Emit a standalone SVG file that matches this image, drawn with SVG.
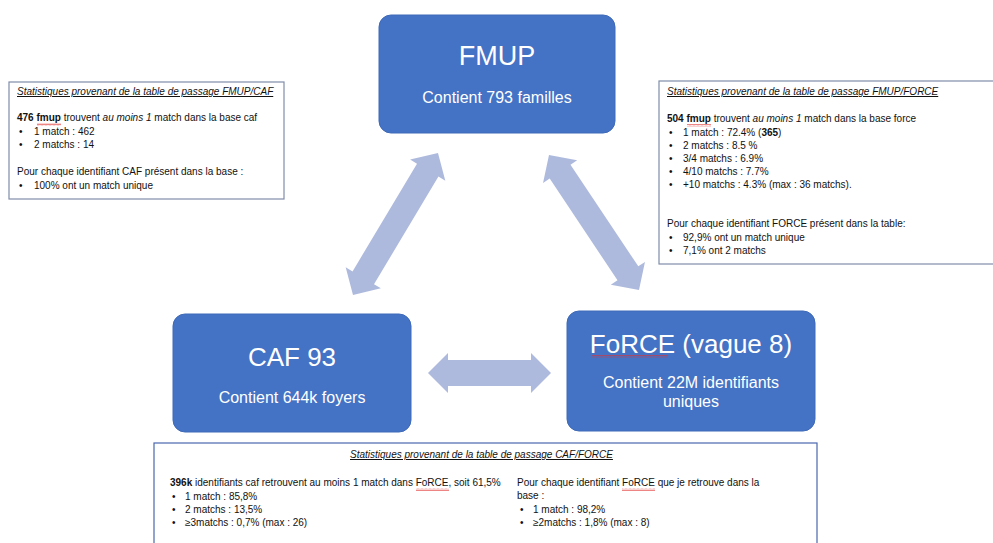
<svg xmlns="http://www.w3.org/2000/svg" width="993" height="543" viewBox="0 0 993 543">
<defs>
<style>
.node{fill:#4472C4;stroke:#3F6AB8;stroke-width:1}
.ttl{font-family:"Liberation Sans",Arial,sans-serif;fill:#fff;text-anchor:middle}
.sub{font-family:"Liberation Sans",Arial,sans-serif;font-size:16px;fill:#fff;text-anchor:middle}
.arr{fill:#AEBADD}
.box{fill:#fff;stroke:#7F8DAA;stroke-width:1.2}
.box2{fill:#fff;stroke:#4A68AE;stroke-width:1.2}
.t{font-family:"Liberation Sans",Arial,sans-serif;font-size:10px;fill:#111}
.hd{font-style:italic;text-decoration:underline}
.b{font-weight:bold}
.i{font-style:italic}
.sq{fill:url(#sq)}
</style>
<pattern id="sq" width="4" height="3" patternUnits="userSpaceOnUse">
<path d="M0,2.4 L1,0.6 L2,2.4 L3,0.6 L4,2.4" fill="none" stroke="#E03030" stroke-width="0.6"/>
</pattern>
</defs>
<rect width="993" height="543" fill="#fff"/>

<g id="connectors">
<path class="arr" transform="translate(353,295) rotate(-59.1)" d="M0,0 L20,-20.5 L20,-12.5 L145.5,-12.5 L145.5,-20.5 L165.5,0 L145.5,20.5 L145.5,12.5 L20,12.5 L20,20.5 Z"/>
<path class="arr" transform="translate(549,155) rotate(56.3)" d="M0,0 L20,-20.5 L20,-12.5 L142.2,-12.5 L142.2,-20.5 L162.2,0 L142.2,20.5 L142.2,12.5 L20,12.5 L20,20.5 Z"/>
<path class="arr" transform="translate(428,373)" d="M0,0 L20,-20 L20,-13 L103,-13 L103,-20 L123,0 L103,20 L103,13 L20,13 L20,20 Z"/>
</g>

<g id="fmup">
<rect class="node" x="379" y="15" width="236" height="118" rx="12"/>
<text class="ttl" x="497" y="65" font-size="27">FMUP</text>
<text class="sub" x="497" y="103">Contient 793 familles</text>
</g>

<g id="caf93">
<rect class="node" x="173" y="314" width="238" height="118" rx="12"/>
<text class="ttl" x="292" y="366" font-size="26">CAF 93</text>
<text class="sub" x="292" y="403">Contient 644k foyers</text>
</g>

<g id="force">
<rect class="node" x="567" y="311" width="248" height="120" rx="12"/>
<text class="ttl" x="691" y="353" font-size="26">FoRCE (vague 8)</text>
<rect class="sq" x="592" y="355" width="76" height="3"/>
<text class="sub" x="691" y="388">Contient 22M identifiants</text>
<text class="sub" x="691" y="407">uniques</text>
</g>

<g id="stats-fmup-caf">
<rect class="box" x="9" y="82" width="275" height="117"/>
<text class="t hd" x="17" y="95">Statistiques provenant de la table de passage FMUP/CAF</text>
<text class="t" x="17" y="121"><tspan class="b">476 fmup</tspan> trouvent <tspan class="i">au moins 1</tspan> match dans la base caf</text>
<rect class="sq" x="37" y="123" width="24" height="3"/>
<text class="t" x="19" y="135">•</text><text class="t" x="34" y="135">1 match : 462</text>
<text class="t" x="19" y="148">•</text><text class="t" x="34" y="148">2 matchs : 14</text>
<text class="t" x="17" y="175">Pour chaque identifiant CAF présent dans la base :</text>
<text class="t" x="19" y="189">•</text><text class="t" x="34" y="189">100% ont un match unique</text>
</g>

<g id="stats-fmup-force">
<rect class="box" x="659" y="81" width="340" height="183"/>
<text class="t hd" x="667" y="95">Statistiques provenant de la table de passage FMUP/FORCE</text>
<text class="t" x="667" y="122"><tspan class="b">504 fmup</tspan> trouvent <tspan class="i">au moins 1</tspan> match dans la base force</text>
<rect class="sq" x="687" y="124" width="24" height="3"/>
<text class="t" x="669" y="136">•</text><text class="t" x="683" y="136">1 match : 72.4% (<tspan class="b">365</tspan>)</text>
<text class="t" x="669" y="149">•</text><text class="t" x="683" y="149">2 matchs : 8.5 %</text>
<text class="t" x="669" y="162">•</text><text class="t" x="683" y="162">3/4 matchs : 6.9%</text>
<text class="t" x="669" y="175">•</text><text class="t" x="683" y="175">4/10 matchs : 7.7%</text>
<text class="t" x="669" y="188">•</text><text class="t" x="683" y="188">+10 matchs : 4.3% (max : 36 matchs).</text>
<text class="t" x="667" y="227">Pour chaque identifiant FORCE présent dans la table:</text>
<text class="t" x="669" y="241">•</text><text class="t" x="683" y="241">92,9% ont un match unique</text>
<text class="t" x="669" y="254">•</text><text class="t" x="683" y="254">7,1% ont 2 matchs</text>
</g>

<g id="stats-caf-force">
<rect class="box2" x="154" y="443" width="663" height="120"/>
<text class="t hd" x="350" y="458">Statistiques provenant de la table de passage CAF/FORCE</text>
<text class="t" x="170" y="486"><tspan class="b">396k</tspan> identifiants caf retrouvent au moins 1 match dans FoRCE, soit 61,5%</text>
<rect class="sq" x="416" y="488" width="33" height="3"/>
<text class="t" x="172" y="500">•</text><text class="t" x="185" y="500">1 match : 85,8%</text>
<text class="t" x="172" y="513">•</text><text class="t" x="185" y="513">2 matchs : 13,5%</text>
<text class="t" x="172" y="526">•</text><text class="t" x="185" y="526">≥3matchs : 0,7% (max : 26)</text>
<text class="t" x="517" y="486">Pour chaque identifiant FoRCE que je retrouve dans la</text>
<rect class="sq" x="622" y="488" width="33" height="3"/>
<text class="t" x="517" y="499">base :</text>
<text class="t" x="520" y="513">•</text><text class="t" x="533" y="513">1 match : 98,2%</text>
<text class="t" x="520" y="526">•</text><text class="t" x="533" y="526">≥2matchs : 1,8% (max : 8)</text>
</g>
</svg>
